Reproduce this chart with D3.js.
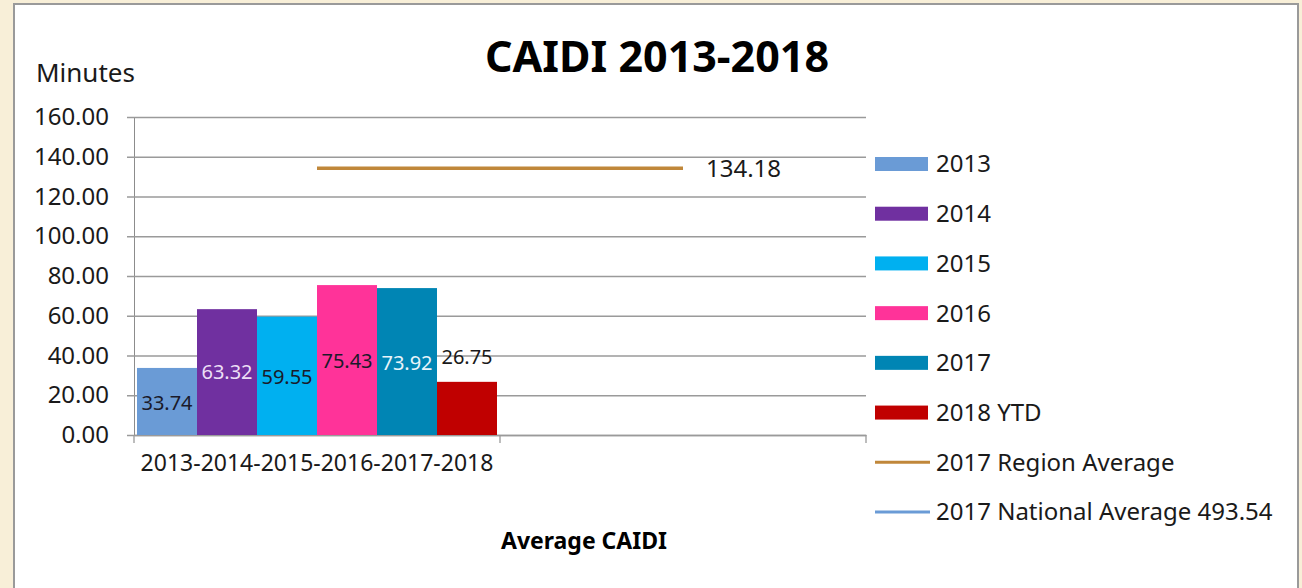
<!DOCTYPE html>
<html>
<head>
<meta charset="utf-8">
<script src="https://cdn.jsdelivr.net/npm/d3@7"></script>
<style>
  html, body { margin: 0; padding: 0; background: #f8efd8; }
  #chart { width: 1302px; height: 588px; }
  text { font-family: "Noto Sans", sans-serif; fill: #1a1a1a; }
</style>
</head>
<body>
<div id="chart"></div>
<script>
// categories on the x axis (second one is empty, only carries the average line)
const categories = ["2013-2014-2015-2016-2017-2018", ""];

// bar series
const seriesNames = ["2013", "2014", "2015", "2016", "2017", "2018 YTD"];
const seriesValues = [33.74, 63.32, 59.55, 75.43, 73.92, 26.75];
const seriesColors = ["#6a9bd6", "#7030a0", "#00b0f0", "#ff3399", "#0085b4", "#c00000"];
const labelColors = ["#1a1a2a", "#ecdff5", "#1a1a2a", "#1a1a2a", "#e8f4fa", "#1a1a1a"];
// where the data labels sit, in minutes (as placed in the reference)
const labelAt = [16.1, 31.7, 29.2, 37.2, 36.2, 39.2];

// line series
const regionAverage = [134.18, 134.18];
const nationalAverage = [493.54, 493.54];
const lineNames = ["2017 Region Average", "2017 National Average 493.54"];
const lineColors = ["#c0873a", "#6a9bd6"];

const yTicks = [0, 20, 40, 60, 80, 100, 120, 140, 160];

const W = 1302, H = 588;
const margin = { top: 117, right: 436, bottom: 153, left: 134 };

const svg = d3.select("#chart")
  .append("svg")
  .attr("width", W)
  .attr("height", H);

// frame
svg.append("rect")
  .attr("x", 0).attr("y", 0).attr("width", W).attr("height", H)
  .attr("fill", "#f8efd8");
svg.append("rect")
  .attr("x", 14).attr("y", 4).attr("width", 1284).attr("height", 600)
  .attr("fill", "white")
  .attr("stroke", "#9a9a9a")
  .attr("stroke-width", 2);

const x = d3.scaleBand()
  .domain(categories)
  .range([margin.left, W - margin.right]);

const xs = d3.scaleBand()
  .domain(seriesNames)
  .range([0, x.bandwidth()])
  .paddingOuter(0.05);

const y = d3.scaleLinear()
  .domain([0, 160])
  .range([H - margin.bottom, margin.top]);

// gridlines + y axis
const yAxis = svg.append("g")
  .attr("transform", `translate(${margin.left},0)`)
  .call(d3.axisLeft(y)
    .tickValues(yTicks)
    .tickFormat(d3.format(".2f"))
    .tickSizeInner(-(W - margin.right - margin.left))
    .tickSizeOuter(0)
    .tickPadding(25));
yAxis.select(".domain").attr("stroke", "#8c8c8c");
yAxis.selectAll(".tick line")
  .attr("x1", -7)
  .attr("stroke", "#9a9a9a")
  .attr("stroke-width", 1.3);
yAxis.selectAll(".tick text")
  .style("font-size", "24px")
  .attr("fill", "#1a1a1a");

// x axis
const xAxis = svg.append("g")
  .attr("transform", `translate(0,${y(0)})`)
  .call(d3.axisBottom(x).tickSize(0).tickPadding(20));
xAxis.select(".domain").attr("stroke", "#9a9a9a").attr("stroke-width", 1.3);
xAxis.selectAll(".tick text")
  .style("font-size", "23px")
  .attr("fill", "#1a1a1a");
// category boundary ticks
const bounds = categories.map(c => x(c)).concat([x(categories[1]) + x.bandwidth()]);
xAxis.selectAll(".bound")
  .data(bounds)
  .enter()
  .append("line")
  .attr("x1", d => d).attr("x2", d => d)
  .attr("y1", 0).attr("y2", 8)
  .attr("stroke", "#9a9a9a")
  .attr("stroke-width", 1.3);

// bars
const bars = svg.append("g");
bars.selectAll("rect")
  .data(seriesNames)
  .enter()
  .append("rect")
  .attr("x", d => x(categories[0]) + xs(d))
  .attr("y", (d, i) => y(seriesValues[i]))
  .attr("width", xs.bandwidth())
  .attr("height", (d, i) => y(0) - y(seriesValues[i]))
  .attr("fill", (d, i) => seriesColors[i]);

bars.selectAll("text")
  .data(seriesNames)
  .enter()
  .append("text")
  .attr("x", d => x(categories[0]) + xs(d) + xs.bandwidth() / 2)
  .attr("y", (d, i) => y(labelAt[i]))
  .attr("dy", "0.35em")
  .attr("text-anchor", "middle")
  .style("font-size", "20px")
  .style("fill", (d, i) => labelColors[i])
  .text((d, i) => seriesValues[i].toFixed(2));

// region average line
const line = d3.line()
  .x((d, i) => x(categories[i]) + x.bandwidth() / 2)
  .y(d => y(d));

svg.append("path")
  .datum(regionAverage)
  .attr("d", line)
  .attr("fill", "none")
  .attr("stroke", lineColors[0])
  .attr("stroke-width", 3.5);

svg.append("text")
  .attr("x", x(categories[1]) + x.bandwidth() / 2 + 23)
  .attr("y", y(regionAverage[1]))
  .attr("dy", "0.35em")
  .style("font-size", "24px")
  .text(regionAverage[1].toFixed(2));

// titles
svg.append("text")
  .attr("x", 657)
  .attr("y", 72)
  .attr("text-anchor", "middle")
  .style("font-size", "43px")
  .style("font-weight", "bold")
  .style("fill", "#000")
  .text("CAIDI 2013-2018");

svg.append("text")
  .attr("x", 36)
  .attr("y", 82)
  .style("font-size", "26px")
  .text("Minutes");

svg.append("text")
  .attr("x", 584)
  .attr("y", 549)
  .attr("text-anchor", "middle")
  .style("font-size", "23px")
  .style("font-weight", "bold")
  .style("fill", "#000")
  .text("Average CAIDI");

// legend
const legendItems = seriesNames.map((n, i) => ({ name: n, color: seriesColors[i], type: "bar" }))
  .concat(lineNames.map((n, i) => ({ name: n, color: lineColors[i], type: "line" })));

const ly = d3.scalePoint()
  .domain(legendItems.map(d => d.name))
  .range([164, 512]);

const legend = svg.append("g")
  .selectAll("g")
  .data(legendItems)
  .enter()
  .append("g")
  .attr("transform", d => `translate(875,${ly(d.name)})`);

legend.filter(d => d.type === "bar")
  .append("rect")
  .attr("x", 0).attr("y", -7)
  .attr("width", 53).attr("height", 14)
  .attr("fill", d => d.color);

legend.filter(d => d.type === "line")
  .append("line")
  .attr("x1", 0).attr("x2", 55)
  .attr("stroke", d => d.color)
  .attr("stroke-width", 3);

legend.append("text")
  .attr("x", 61)
  .attr("dy", "0.35em")
  .style("font-size", "24px")
  .text(d => d.name);
</script>
</body>
</html>
